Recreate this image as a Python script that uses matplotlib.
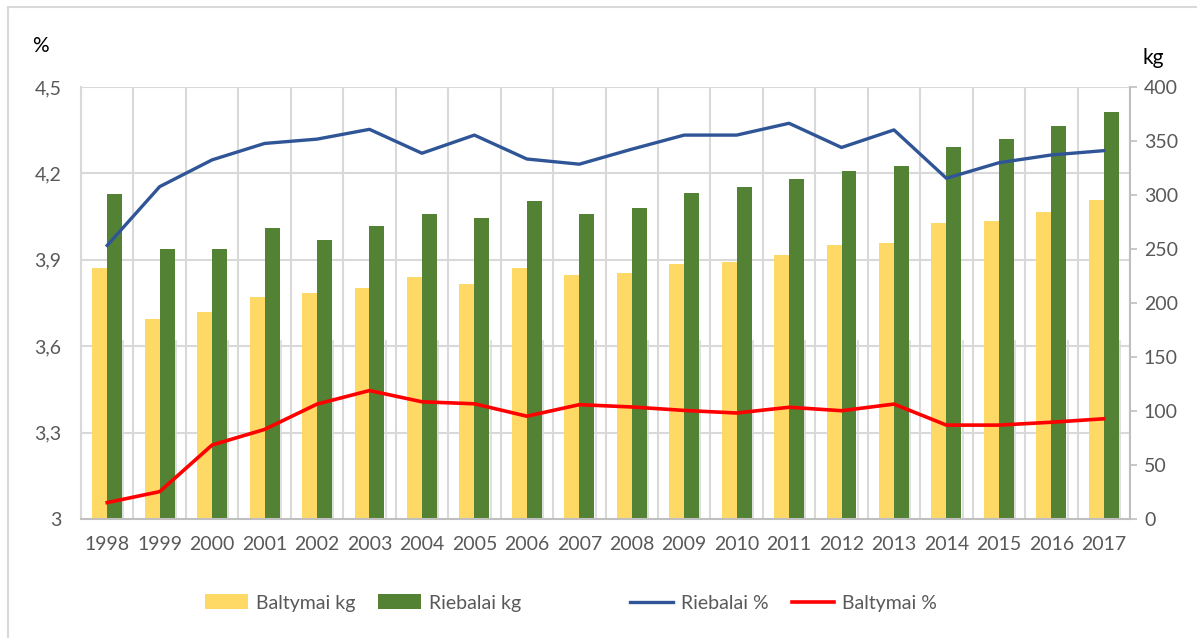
import numpy as np
import matplotlib
matplotlib.use("Agg")
import matplotlib.pyplot as plt
from matplotlib.patches import Rectangle
from matplotlib.ticker import FixedLocator

plt.rcParams['font.family'] = ['Lato', 'DejaVu Sans']

years = [str(y) for y in range(1998, 2018)]
baltymai_kg = [232, 185, 192, 206, 209, 214, 224, 218, 232, 226,
               228, 236, 238, 244, 254, 256, 274, 276, 284, 295]
riebalai_kg = [301, 250, 250, 269, 258, 271, 282, 279, 294, 282,
               288, 302, 307, 315, 322, 327, 344, 352, 364, 377]
riebalai_pct = [3.95, 4.154, 4.247, 4.304, 4.319, 4.353, 4.27, 4.333, 4.25, 4.232,
                4.284, 4.333, 4.333, 4.374, 4.29, 4.351, 4.183, 4.237, 4.264, 4.279]
baltymai_pct = [3.057, 3.095, 3.257, 3.311, 3.399, 3.446, 3.407, 3.40, 3.357, 3.397,
                3.389, 3.377, 3.368, 3.388, 3.376, 3.399, 3.326, 3.326, 3.336, 3.348]

pct_ticks = [3.0, 3.3, 3.6, 3.9, 4.2, 4.5]
pct_labels = ["3", "3,3", "3,6", "3,9", "4,2", "4,5"]
kg_ticks = list(range(0, 401, 50))

YELLOW = "#FFD966"
GREEN = "#548235"
BLUE = "#2F5597"
RED = "#FF0000"
GRID = "#D9D9D9"
AXIS = "#BFBFBF"
TXT = "#595959"

fig = plt.figure(figsize=(11.97, 6.38), dpi=100)
fig.patches.append(Rectangle((8 / 1197, -0.05), 1.2, 1 - 7 / 638 + 0.05,
                             transform=fig.transFigure, fill=False,
                             edgecolor="#D9D9D9", lw=1.5))

ax = fig.add_axes([81 / 1197, 1 - 519 / 638, (1130 - 81) / 1197, (519 - 87) / 638])
x = np.arange(len(years))
w = 0.285

# horizontal grid follows the % axis, drawn in kg units behind the bars
for p in pct_ticks[1:]:
    ax.axhline((p - 3.0) / 1.5 * 400, color=GRID, lw=1.5, zorder=0)
for k in range(len(years) + 1):
    ax.axvline(k - 0.5, color=GRID, lw=1.5, zorder=0)
    if k < len(years):
        ax.plot([k + 0.31, k + 0.31], [0, 165], color=GRID, lw=1.2, zorder=0)

ax.bar(x - w / 2, baltymai_kg, w, color=YELLOW, zorder=2, label="Baltymai kg")
ax.bar(x + w / 2, riebalai_kg, w, color=GREEN, zorder=2, label="Riebalai kg")
ax.set_xlim(-0.5, len(years) - 0.5)
ax.set_ylim(0, 400)

ax2 = ax.twinx()
ax2.plot(x, riebalai_pct, color=BLUE, lw=2.4, label="Riebalai %", zorder=3)
ax2.plot(x, baltymai_pct, color=RED, lw=2.6, label="Baltymai %", zorder=3)
ax2.set_ylim(3.0, 4.5)
ax2.yaxis.tick_left()
ax2.yaxis.set_major_locator(FixedLocator(pct_ticks))
ax2.set_yticklabels(pct_labels)
ax2.tick_params(axis='y', length=0, pad=14, labelsize=14, labelcolor=TXT)
for s in ax2.spines.values():
    s.set_visible(False)

# kg labels on the right side
ax.yaxis.tick_right()
ax.set_yticks(kg_ticks)
ax.set_xticks(x)
ax.set_xticklabels(years)
ax.tick_params(axis='x', length=0, pad=12, labelsize=14, labelcolor=TXT)
ax.tick_params(axis='y', which='both', left=False, labelleft=False, right=True, labelright=True,
               length=5, width=1.2, color=AXIS, pad=5, labelsize=14, labelcolor=TXT)
ax.spines["top"].set_visible(False)
ax.spines["left"].set_color(GRID)
ax.spines["left"].set_linewidth(1.5)
ax.spines["bottom"].set_color(AXIS)
ax.spines["bottom"].set_linewidth(1.5)
ax.spines["right"].set_color(AXIS)
ax.spines["right"].set_linewidth(1.5)

fig.text(40 / 1197, 1 - 46 / 638, "%", fontsize=15, color="black", ha="center", va="center")
fig.text(1153 / 1197, 1 - 58 / 638, "kg", fontsize=15, color="black", ha="center", va="center")

# two legends so the gap between bar and line entries matches
h1, l1 = ax.get_legend_handles_labels()
h2, l2 = ax2.get_legend_handles_labels()
leg_y = 1 - 603 / 638
kw = dict(loc="center left", ncol=2, frameon=False, fontsize=14, handlelength=2.2,
          handleheight=0.8, columnspacing=1.2, handletextpad=0.4,
          borderpad=0, borderaxespad=0)
leg1 = fig.legend(h1, l1, bbox_to_anchor=(205 / 1197, leg_y), **kw)
leg2 = fig.legend(h2, l2, bbox_to_anchor=(630 / 1197, leg_y), **kw)
for leg in (leg1, leg2):
    for t in leg.get_texts():
        t.set_color(TXT)

fig.savefig("out.png", dpi=100)
